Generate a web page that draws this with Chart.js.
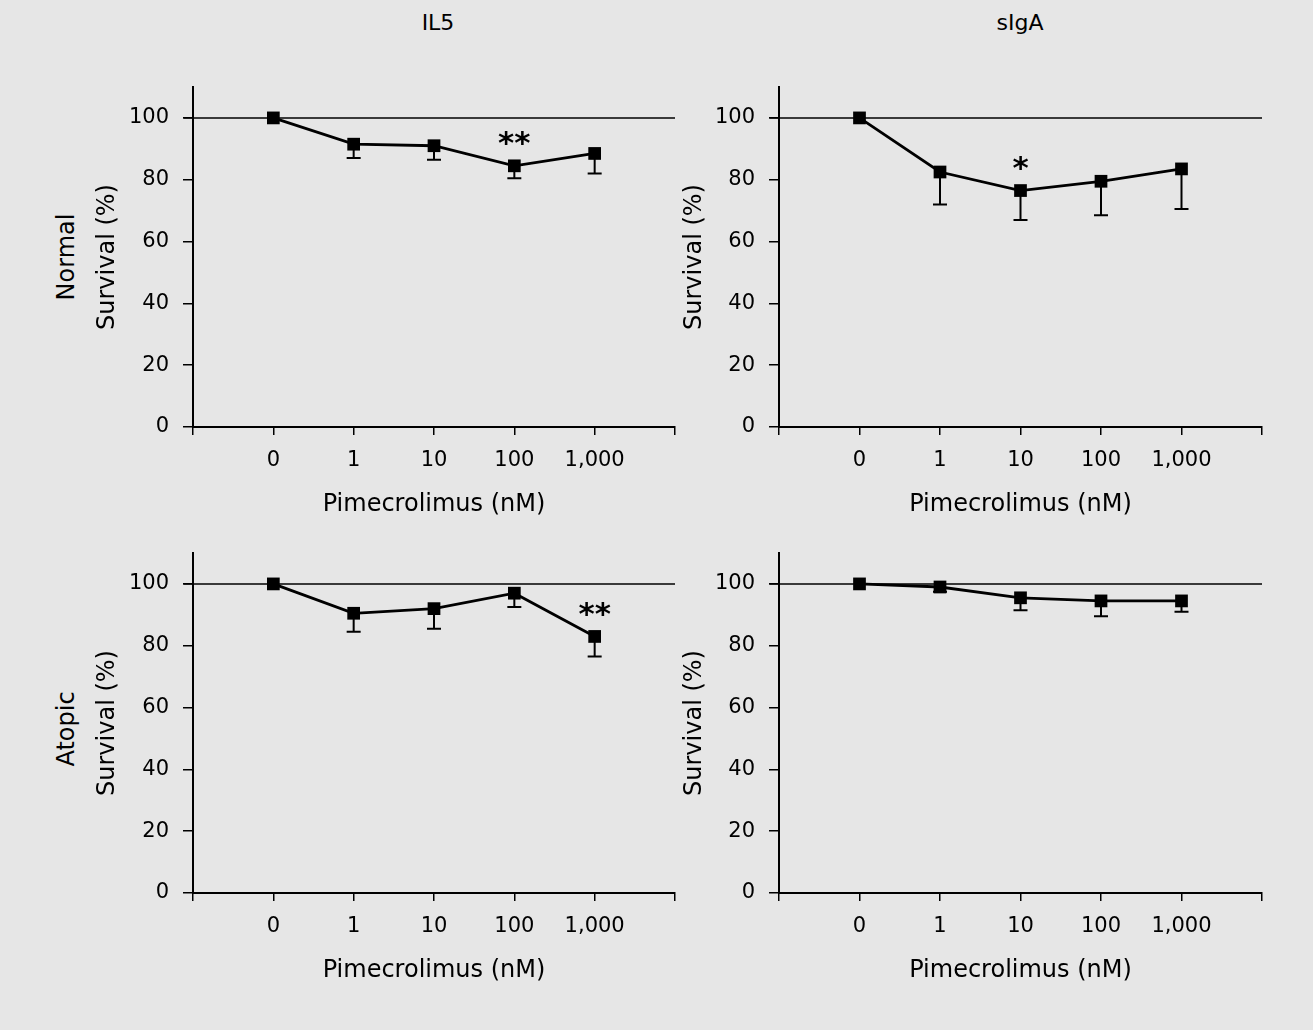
<!DOCTYPE html>
<html>
<head>
<meta charset="utf-8">
<script src="https://cdn.jsdelivr.net/npm/chart.js@4.4.1/dist/chart.umd.min.js"></script>
<style>
  body { margin: 0; width: 1313px; height: 1030px; background: #e6e6e6; position: relative; overflow: hidden; font-family: 'DejaVu Sans', sans-serif; }
  canvas { position: absolute; }
  .lbl { position: absolute; font-size: 22px; color: #000; white-space: nowrap; transform: translate(-50%, -50%); }
  .rot { font-size: 24px; transform: translate(-50%, -50%) rotate(-90deg); }
</style>
</head>
<body>
<div class="lbl" style="left:438px;top:22px">IL5</div>
<div class="lbl" style="left:1020px;top:22px">sIgA</div>
<div class="lbl rot" style="left:66px;top:257px">Normal</div>
<div class="lbl rot" style="left:66px;top:729px">Atopic</div>

<canvas id="il5Normal" width="700" height="500" style="left:0;top:40px"></canvas>
<canvas id="sigaNormal" width="673" height="500" style="left:640px;top:40px"></canvas>
<canvas id="il5Atopic" width="700" height="500" style="left:0;top:506px"></canvas>
<canvas id="sigaAtopic" width="673" height="500" style="left:640px;top:506px"></canvas>

<script>
// ===== Data =====
const doses = ["0", "1", "10", "100", "1,000"];
const refLevel = 100;

const il5Normal    = [100, 91.5, 91, 84.5, 88.5];
const il5NormalLow = [100, 87, 86.5, 80.5, 82];

const sigaNormal    = [100, 82.5, 76.5, 79.5, 83.5];
const sigaNormalLow = [100, 72, 67, 68.5, 70.5];

const il5Atopic    = [100, 90.5, 92, 97, 83];
const il5AtopicLow = [100, 84.5, 85.5, 92.5, 76.5];

const sigaAtopic    = [100, 99, 95.5, 94.5, 94.5];
const sigaAtopicLow = [100, 97.5, 91.5, 89.5, 91];

Chart.defaults.font.family = "'DejaVu Sans', sans-serif";
Chart.defaults.color = "#000";

// lower error bars, drawn under the markers
const errorBars = {
    id: "errorBars",
    beforeDatasetsDraw(chart) {
        const ds = chart.data.datasets[0];
        const meta = chart.getDatasetMeta(0);
        const y = chart.scales.y;
        const ctx = chart.ctx;
        ctx.save();
        ctx.strokeStyle = "#000";
        ctx.lineWidth = 2;
        meta.data.forEach((pt, i) => {
            const low = ds.lows[i];
            if (low == null || low >= ds.data[i].y) return;
            const yl = y.getPixelForValue(low);
            ctx.beginPath();
            ctx.moveTo(pt.x, pt.y);
            ctx.lineTo(pt.x, yl);
            ctx.moveTo(pt.x - 7, yl);
            ctx.lineTo(pt.x + 7, yl);
            ctx.stroke();
        });
        ctx.restore();
    }
};

// significance asterisks
const sigMarks = {
    id: "sigMarks",
    afterDatasetsDraw(chart) {
        const ds = chart.data.datasets[0];
        if (!ds.sig) return;
        const pt = chart.getDatasetMeta(0).data[ds.sig.index];
        const ctx = chart.ctx;
        ctx.save();
        ctx.font = "bold 31px 'DejaVu Sans'";
        ctx.textAlign = "center";
        ctx.textBaseline = "alphabetic";
        const m = ctx.measureText(ds.sig.text);
        const cy = pt.y - 27;
        ctx.fillText(ds.sig.text, pt.x, cy + (m.actualBoundingBoxAscent - m.actualBoundingBoxDescent) / 2);
        ctx.restore();
    }
};

function makePanel(id, values, lows, sig, axisWidth, titlePad, padRight) {
    new Chart(document.getElementById(id), {
        type: "line",
        data: {
            datasets: [{
                data: values.map((v, i) => ({ x: i, y: v })),
                lows: lows,
                sig: sig,
                borderColor: "#000",
                borderWidth: 2.8,
                pointStyle: "rect",
                pointRadius: 9,
                pointBackgroundColor: "#000",
                pointBorderWidth: 0,
                clip: false,
                order: 1
            }, {
                data: [{ x: -1.12, y: refLevel }, { x: 5, y: refLevel }],
                borderColor: "#000",
                borderWidth: 1.5,
                pointRadius: 0,
                clip: false,
                order: 2
            }]
        },
        options: {
            responsive: false,
            animation: false,
            layout: { padding: { top: 47, right: padRight, left: 0, bottom: 0 } },
            plugins: { legend: { display: false }, tooltip: { enabled: false } },
            scales: {
                x: {
                    type: "linear",
                    min: -1,
                    max: 5,
                    afterFit(s) { s.height = 113; },
                    ticks: {
                        stepSize: 1,
                        autoSkip: false,
                        maxRotation: 0,
                        padding: 13,
                        font: { size: 21 },
                        callback: v => (Number.isInteger(v) && v >= 0 && v < doses.length) ? doses[v] : ""
                    },
                    grid: { drawOnChartArea: false, drawTicks: true, tickLength: 8, color: "#000", lineWidth: 1.5 },
                    border: { color: "#000", width: 2 },
                    title: { display: true, text: "Pimecrolimus (nM)", font: { size: 24 }, padding: { top: 0, bottom: 21 } }
                },
                y: {
                    min: 0,
                    max: 110,
                    afterFit(s) { s.width = axisWidth; },
                    ticks: { stepSize: 20, includeBounds: false, padding: 14, font: { size: 21 } },
                    grid: { drawOnChartArea: false, drawTicks: true, tickLength: 10, color: "#000", lineWidth: 1.5 },
                    border: { color: "#000", width: 2 },
                    title: { display: true, text: "Survival (%)", font: { size: 24 }, padding: { top: titlePad, bottom: 0 } }
                }
            }
        },
        plugins: [errorBars, sigMarks]
    });
}

makePanel("il5Normal", il5Normal, il5NormalLow, { index: 3, text: "**" }, 193, 93, 25);
makePanel("sigaNormal", sigaNormal, sigaNormalLow, { index: 2, text: "*" }, 139, 40, 51);
makePanel("il5Atopic", il5Atopic, il5AtopicLow, { index: 4, text: "**" }, 193, 93, 25);
makePanel("sigaAtopic", sigaAtopic, sigaAtopicLow, null, 139, 40, 51);
</script>
</body>
</html>
